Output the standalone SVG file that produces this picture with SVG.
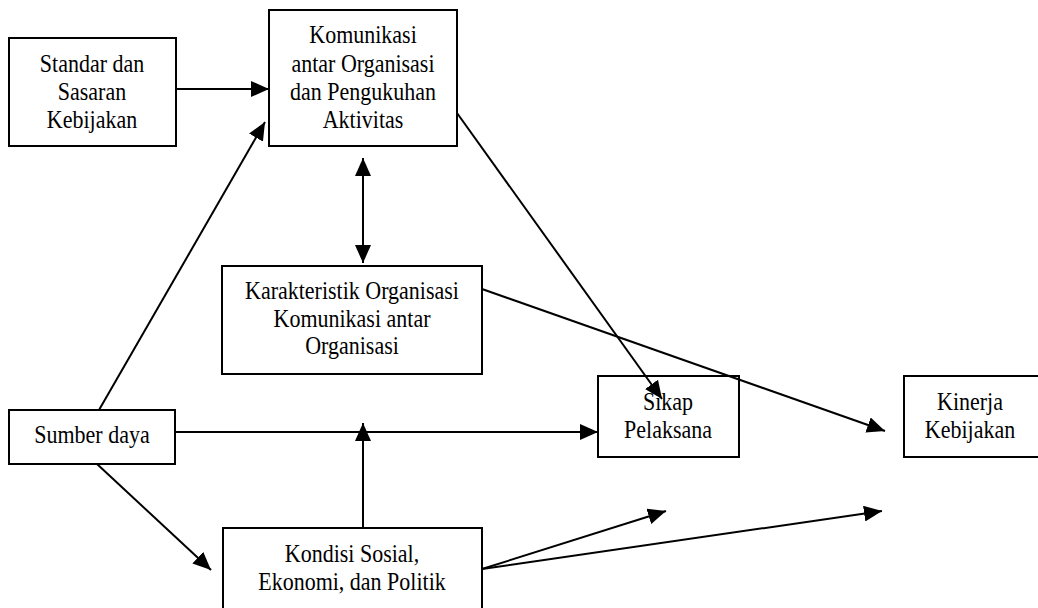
<svg xmlns="http://www.w3.org/2000/svg" width="1038" height="608" viewBox="0 0 1038 608">
  <style>
    .box { fill: #ffffff; stroke: #000000; stroke-width: 2; }
    .edge { fill: none; stroke: #000000; stroke-width: 2; }
    .arr { marker-end: url(#head); }
  </style>
  <defs>
    <marker id="head" markerUnits="userSpaceOnUse" markerWidth="20" markerHeight="16" refX="18" refY="8" orient="auto">
      <path d="M0,0 L18,8 L0,16 Z" fill="#000000"/>
    </marker>
    <marker id="tail" markerUnits="userSpaceOnUse" markerWidth="20" markerHeight="16" refX="18" refY="8" orient="auto-start-reverse">
      <path d="M0,0 L18,8 L0,16 Z" fill="#000000"/>
    </marker>
  </defs>
  <rect width="1038" height="608" fill="#ffffff"/>

  <!-- labels are set in a serif face, stretched slightly taller -->
  <g font-family="Liberation Serif, Times New Roman, serif" font-size="22" fill="#000000" text-anchor="middle">
    <g id="standar">
      <rect class="box" x="9" y="38" width="167" height="108"/>
      <text transform="translate(92,72) scale(1,1.12)">Standar dan</text>
      <text transform="translate(92,100) scale(1,1.12)">Sasaran</text>
      <text transform="translate(92,128) scale(1,1.12)">Kebijakan</text>
    </g>

    <g id="komunikasi">
      <rect class="box" x="269" y="10" width="188" height="136"/>
      <text transform="translate(363,43) scale(1,1.12)">Komunikasi</text>
      <text transform="translate(363,72) scale(1,1.12)">antar Organisasi</text>
      <text transform="translate(363,100) scale(1,1.12)">dan Pengukuhan</text>
      <text transform="translate(363,128) scale(1,1.12)">Aktivitas</text>
    </g>

    <g id="karakteristik">
      <rect class="box" x="222" y="266" width="260" height="108"/>
      <text transform="translate(352,299) scale(1,1.12)">Karakteristik Organisasi</text>
      <text transform="translate(352,327) scale(1,1.12)">Komunikasi antar</text>
      <text transform="translate(352,354) scale(1,1.12)">Organisasi</text>
    </g>

    <g id="sumber">
      <rect class="box" x="9" y="410" width="166" height="54"/>
      <text transform="translate(92,443) scale(1,1.12)">Sumber daya</text>
    </g>

    <g id="sikap">
      <rect class="box" x="598" y="376" width="141" height="81"/>
      <text transform="translate(668,410) scale(1,1.12)">Sikap</text>
      <text transform="translate(668,438) scale(1,1.12)">Pelaksana</text>
    </g>

    <g id="kinerja">
      <rect class="box" x="904" y="376" width="140" height="81"/>
      <text transform="translate(970,410) scale(1,1.12)">Kinerja</text>
      <text transform="translate(970,438) scale(1,1.12)">Kebijakan</text>
    </g>

    <g id="kondisi">
      <rect class="box" x="223" y="528" width="259" height="90"/>
      <text transform="translate(352,562) scale(1,1.12)">Kondisi Sosial,</text>
      <text transform="translate(352,590) scale(1,1.12)">Ekonomi, dan Politik</text>
    </g>
  </g>

  <g id="connectors">
    <line class="edge arr" x1="176" y1="89" x2="269" y2="89"/>
    <line class="edge" x1="363" y1="158" x2="363" y2="263" marker-start="url(#tail)" marker-end="url(#head)"/>
    <line class="edge arr" x1="457" y1="113" x2="662" y2="399"/>
    <line class="edge arr" x1="482" y1="289" x2="885" y2="431"/>
    <line class="edge arr" x1="99" y1="410" x2="265" y2="122"/>
    <line class="edge arr" x1="175" y1="432" x2="598" y2="432"/>
    <line class="edge arr" x1="363" y1="528" x2="363" y2="423"/>
    <line class="edge arr" x1="97" y1="464" x2="211" y2="570"/>
    <line class="edge arr" x1="482" y1="569" x2="666" y2="511"/>
    <line class="edge arr" x1="482" y1="569" x2="882" y2="511"/>
  </g>
</svg>
